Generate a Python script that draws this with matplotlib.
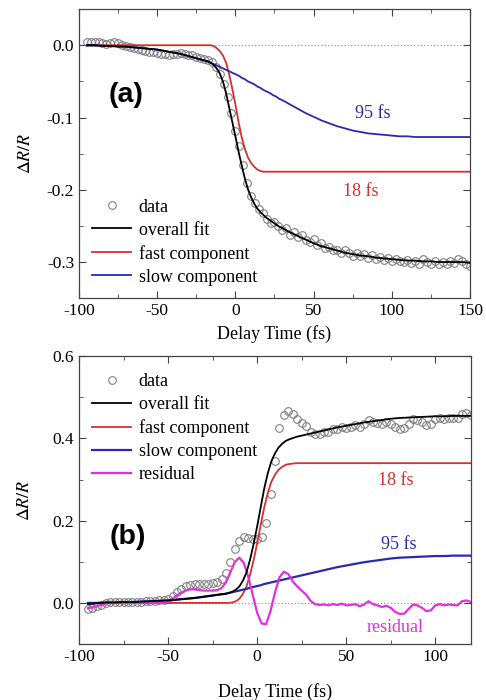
import numpy as np
import matplotlib
matplotlib.use("Agg")
from matplotlib import pyplot as plt
from matplotlib.ticker import MultipleLocator

plt.rcParams['font.family'] = ['Liberation Serif', 'DejaVu Serif']
plt.rcParams['mathtext.fontset'] = 'stix'
plt.rcParams['axes.unicode_minus'] = False

# Panel (a) ------------------------------------------------------------------
t_curve_a = ([-95, -90, -85, -80, -75, -70, -65, -60, -55, -50, -45, -40, -35, -30, -25, -20]
             + list(range(-18, 31, 2))
             + list(range(35, 151, 5)))
fast_a = ([0.0] * 16
          + [0.0, 0.0, -0.001, -0.004, -0.008, -0.014, -0.024, -0.040, -0.060, -0.082,
             -0.106, -0.127, -0.143, -0.155, -0.163, -0.168, -0.172, -0.174, -0.175,
             -0.175, -0.175, -0.175, -0.175, -0.175, -0.175]
          + [-0.175] * 24)
slow_a = [0.0, 0.0, -0.0005, -0.001, -0.0015, -0.002, -0.003, -0.004, -0.005, -0.006,
          -0.008, -0.010, -0.012, -0.015, -0.018, -0.021,
          -0.022, -0.024, -0.026, -0.028, -0.030, -0.032, -0.034, -0.036, -0.038, -0.040,
          -0.042, -0.045, -0.047, -0.050, -0.052, -0.054, -0.057, -0.059, -0.062, -0.064,
          -0.066, -0.069, -0.071, -0.074, -0.076,
          -0.082, -0.088, -0.094, -0.099, -0.104, -0.108, -0.112, -0.115, -0.118, -0.120,
          -0.122, -0.123, -0.124, -0.125, -0.126, -0.126, -0.127, -0.127, -0.127, -0.127,
          -0.127, -0.127, -0.127, -0.127]
fit_a = [0.0, 0.0, -0.001, -0.001, -0.002, -0.002, -0.003, -0.004, -0.005, -0.006,
         -0.008, -0.010, -0.012, -0.015, -0.018, -0.021,
         -0.022, -0.024, -0.027, -0.032, -0.039, -0.050, -0.066, -0.086, -0.106, -0.126,
         -0.147, -0.166, -0.184, -0.199, -0.210, -0.219, -0.226, -0.231, -0.235, -0.239,
         -0.242, -0.245, -0.248, -0.251, -0.253,
         -0.259, -0.264, -0.269, -0.274, -0.278, -0.281, -0.284, -0.287, -0.289, -0.291,
         -0.292, -0.294, -0.295, -0.296, -0.297, -0.298, -0.298, -0.299, -0.299, -0.300,
         -0.300, -0.300, -0.300, -0.301]

t_data_a = np.arange(-95, 150.1, 2.5)
data_a = [0.005, 0.005, 0.004, 0.005, 0.003, 0.002, 0.003, 0.004, 0.003, 0.001,
          -0.001, -0.002, -0.004, -0.005, -0.006, -0.008, -0.009, -0.010, -0.011, -0.012,
          -0.012, -0.013, -0.012, -0.012, -0.011, -0.012, -0.013, -0.014, -0.016, -0.018,
          -0.019, -0.021, -0.023, -0.030, -0.040, -0.054, -0.072, -0.094, -0.118, -0.140,
          -0.166, -0.190, -0.208, -0.218, -0.226, -0.232, -0.240, -0.246, -0.244, -0.250,
          -0.255, -0.253, -0.262, -0.258, -0.266, -0.262, -0.270, -0.272, -0.268, -0.276,
          -0.274, -0.281, -0.279, -0.284, -0.283, -0.287, -0.284, -0.288, -0.291, -0.287,
          -0.292, -0.289, -0.294, -0.290, -0.296, -0.293, -0.297, -0.294, -0.299, -0.296,
          -0.298, -0.300, -0.297, -0.301, -0.299, -0.302, -0.296, -0.300, -0.303, -0.299,
          -0.302, -0.300, -0.303, -0.298, -0.301, -0.296, -0.299, -0.302, -0.306]

# Panel (b) ------------------------------------------------------------------
t_curve_b = ([-95, -90, -85, -80, -75, -70, -65, -60, -55, -50, -45, -40, -35, -30, -25, -20]
             + list(range(-18, 31, 2))
             + list(range(35, 121, 5)))
fast_b = ([0.0] * 16
          + [0.0, 0.0, 0.001, 0.004, 0.010, 0.022, 0.040, 0.068, 0.104, 0.145,
             0.190, 0.233, 0.268, 0.295, 0.312, 0.324, 0.331, 0.336, 0.338, 0.339,
             0.340, 0.340, 0.340, 0.340, 0.340]
          + [0.340] * 18)
slow_b = [0.0, 0.0, 0.001, 0.001, 0.002, 0.002, 0.003, 0.004, 0.005, 0.006,
          0.008, 0.010, 0.012, 0.015, 0.018, 0.021,
          0.022, 0.024, 0.026, 0.028, 0.030, 0.032, 0.034, 0.037, 0.039, 0.041,
          0.043, 0.046, 0.048, 0.050, 0.052, 0.054, 0.056, 0.058, 0.060, 0.062,
          0.064, 0.066, 0.068, 0.070, 0.072,
          0.077, 0.082, 0.087, 0.091, 0.095, 0.099, 0.102, 0.105, 0.108, 0.110,
          0.111, 0.112, 0.113, 0.114, 0.114, 0.115, 0.115, 0.115]
fit_b = [-0.003, -0.001, 0.001, 0.001, 0.002, 0.002, 0.003, 0.004, 0.005, 0.006,
         0.008, 0.010, 0.012, 0.015, 0.018, 0.021,
         0.022, 0.024, 0.027, 0.032, 0.040, 0.054, 0.074, 0.105, 0.143, 0.186,
         0.233, 0.279, 0.316, 0.345, 0.364, 0.378, 0.387, 0.394, 0.398, 0.401,
         0.404, 0.406, 0.408, 0.410, 0.412,
         0.417, 0.422, 0.427, 0.431, 0.435, 0.439, 0.442, 0.445, 0.448, 0.450,
         0.451, 0.452, 0.453, 0.454, 0.454, 0.455, 0.455, 0.455]

t_data_b = np.arange(-95, 120.1, 2.5)
data_b = [-0.015, -0.012, -0.008, -0.004, -0.001, 0.001, 0.002, 0.002, 0.001, 0.002,
          0.003, 0.003, 0.003, 0.004, 0.004, 0.005, 0.006, 0.006, 0.009, 0.017,
          0.026, 0.034, 0.040, 0.044, 0.045, 0.045, 0.045, 0.046, 0.048, 0.050,
          0.057, 0.073, 0.100, 0.131, 0.150, 0.160, 0.157, 0.155, 0.155, 0.160,
          0.195, 0.265, 0.345, 0.425, 0.458, 0.467, 0.460, 0.447, 0.437,
          0.430, 0.417, 0.412, 0.412, 0.416, 0.416, 0.422, 0.422, 0.427, 0.425,
          0.428, 0.432, 0.429, 0.435, 0.445, 0.439, 0.438, 0.435, 0.440, 0.436,
          0.427, 0.423, 0.425, 0.436, 0.448, 0.446, 0.441, 0.433, 0.436, 0.448,
          0.451, 0.448, 0.451, 0.450, 0.449, 0.459, 0.461, 0.457]
resid_b = [-0.013, -0.011, -0.008, -0.005, -0.002, 0.000, 0.001, 0.000, -0.001, 0.000,
           0.001, 0.000, 0.000, 0.001, 0.000, 0.000, 0.001, 0.001, 0.003, 0.010,
           0.018, 0.025, 0.030, 0.033, 0.033, 0.031, 0.030, 0.030, 0.030, 0.031,
           0.036, 0.050, 0.075, 0.100, 0.110, 0.097, 0.064, 0.020, -0.024, -0.050,
           -0.052, -0.020, 0.025, 0.062, 0.076, 0.070, 0.052, 0.040, 0.030, 0.020,
           0.005, -0.003, -0.005, -0.004, -0.006, -0.003, -0.005, -0.002, -0.006, -0.005,
           -0.003, -0.008, -0.004, 0.004, -0.003, -0.006, -0.010, -0.007, -0.012, -0.022,
           -0.027, -0.026, -0.015, -0.004, -0.006, -0.012, -0.020, -0.018, -0.006, -0.003,
           -0.006, -0.004, -0.005, -0.006, 0.004, 0.006, 0.002]

# Colours --------------------------------------------------------------------
c_red = '#d63030'
c_blue = '#2a2ab0'
c_mag = '#e030e0'
c_data = '#808080'

fig = plt.figure(figsize=(4.86, 7.0), dpi=100)
ax1 = fig.add_axes([0.1626, 0.574, 0.8044, 0.413])
ax2 = fig.add_axes([0.1626, 0.080, 0.8064, 0.411])

def style(ax):
    for sp in ax.spines.values():
        sp.set_color('#444444')
        sp.set_linewidth(0.9)
    ax.tick_params(which='both', direction='in', top=True, right=True,
                   labelsize=12.5, color='#444444')
    ax.tick_params(which='major', length=5)
    ax.tick_params(which='minor', length=3)
    ax.axhline(0, color='#999999', ls=':', lw=0.9, zorder=1)

mk = dict(ls='none', marker='o', mfc='none', mec=c_data, ms=5.5, mew=0.8, zorder=2)

# (a)
ax1.plot(t_data_a, data_a, label='data', **mk)
ax1.plot(t_curve_a, fit_a, color='k', lw=1.3, label='overall fit', zorder=4)
ax1.plot(t_curve_a, fast_a, color=c_red, lw=1.3, label='fast component', zorder=3)
ax1.plot(t_curve_a, slow_a, color=c_blue, lw=1.3, label='slow component', zorder=3)
ax1.set_xlim(-100, 150)
ax1.set_ylim(-0.35, 0.05)
ax1.xaxis.set_major_locator(MultipleLocator(50))
ax1.xaxis.set_minor_locator(MultipleLocator(25))
ax1.yaxis.set_major_locator(MultipleLocator(0.1))
ax1.yaxis.set_minor_locator(MultipleLocator(0.05))
ax1.yaxis.set_major_formatter(lambda v, p: f'{v:.1f}')
style(ax1)
ax1.set_xlabel('Delay Time (fs)', fontsize=13, labelpad=4)
ax1.set_ylabel(r'$\Delta R/R$', fontsize=13, labelpad=9)
ax1.text(-70, -0.069, '(a)', family='Liberation Sans', fontweight='bold',
         fontsize=20.5, ha='center', va='center')
ax1.text(88, -0.094, '95 fs', color=c_blue, fontsize=13, ha='center', va='center')
ax1.text(80, -0.202, '18 fs', color=c_red, fontsize=13, ha='center', va='center')
ax1.legend(loc='lower left', bbox_to_anchor=(0.0, 0.0), frameon=False,
           fontsize=13, handlelength=2.2, handletextpad=0.4, labelspacing=0.33,
           borderaxespad=0.3)

# (b)
ax2.plot(t_data_b, data_b, label='data', **mk)
ax2.plot(t_curve_b, fit_b, color='k', lw=1.3, label='overall fit', zorder=4)
ax2.plot(t_curve_b, fast_b, color=c_red, lw=1.3, label='fast component', zorder=3)
ax2.plot(t_curve_b, slow_b, color=c_blue, lw=1.6, label='slow component', zorder=3)
ax2.plot(t_data_b, resid_b, color=c_mag, lw=1.6, label='residual', zorder=3)
ax2.set_xlim(-100, 120)
ax2.set_ylim(-0.1, 0.6)
ax2.xaxis.set_major_locator(MultipleLocator(50))
ax2.xaxis.set_minor_locator(MultipleLocator(25))
ax2.yaxis.set_major_locator(MultipleLocator(0.2))
ax2.yaxis.set_minor_locator(MultipleLocator(0.1))
ax2.yaxis.set_major_formatter(lambda v, p: f'{v:.1f}')
style(ax2)
ax2.set_xlabel('Delay Time (fs)', fontsize=13, labelpad=13)
ax2.set_ylabel(r'$\Delta R/R$', fontsize=13, labelpad=14)
ax2.text(-72.7, 0.16, '(b)', family='Liberation Sans', fontweight='bold',
         fontsize=20.5, ha='center', va='center')
ax2.text(77.6, 0.298, '18 fs', color=c_red, fontsize=13, ha='center', va='center')
ax2.text(79.3, 0.141, '95 fs', color=c_blue, fontsize=13, ha='center', va='center')
ax2.text(77.6, -0.061, 'residual', color=c_mag, fontsize=13, ha='center', va='center')
ax2.legend(loc='upper left', bbox_to_anchor=(0.0, 0.985), frameon=False,
           fontsize=13, handlelength=2.2, handletextpad=0.4, labelspacing=0.33,
           borderaxespad=0.3)

fig.savefig('out.png', dpi=100, facecolor='white')
